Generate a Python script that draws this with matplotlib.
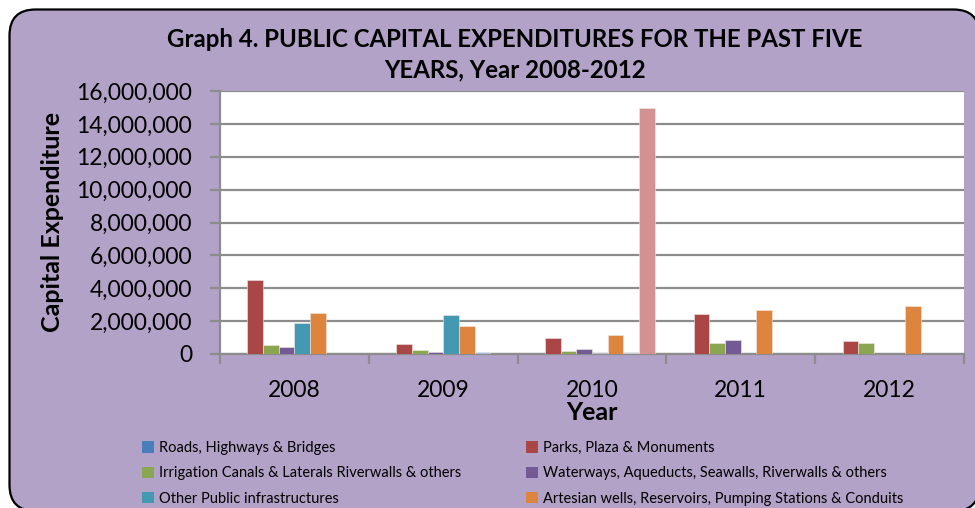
import matplotlib
matplotlib.use("Agg")
import matplotlib.pyplot as plt
from matplotlib.patches import FancyBboxPatch, Patch
from matplotlib.ticker import FuncFormatter, MultipleLocator
import numpy as np

years = ["2008", "2009", "2010", "2011", "2012"]
series_names = [
    "Roads, Highways & Bridges",
    "Parks, Plaza & Monuments",
    "Irrigation Canals & Laterals Riverwalls & others",
    "Waterways, Aqueducts, Seawalls, Riverwalls & others",
    "Other Public infrastructures",
    "Artesian wells, Reservoirs, Pumping Stations & Conduits",
    "Series 7",
    "Series 8",
]
roads      = [0, 0, 0, 0, 0]
parks      = [4500000, 630000, 950000, 2450000, 810000]
irrigation = [550000, 220000, 200000, 690000, 690000]
waterways  = [410000, 100000, 280000, 830000, 0]
other_pub  = [1870000, 2390000, 90000, 0, 0]
artesian   = [2490000, 1700000, 1160000, 2680000, 2900000]
series7    = [0, 120000, 60000, 0, 0]
series8    = [0, 0, 14950000, 0, 0]
all_series = [roads, parks, irrigation, waterways, other_pub, artesian, series7, series8]
colors = ["#4A7EBB", "#AA4645", "#8BA650", "#745A94", "#4399B2", "#DD853E", "#A6BEE0", "#D39292"]

BG = "#B2A2C7"
fig = plt.figure(figsize=(9.75, 5.08), dpi=100)
fig.patch.set_facecolor("white")
frame = FancyBboxPatch((9.5, -3), 970, 508 - 9.5 + 3,
                       boxstyle="round,pad=0,rounding_size=26",
                       transform=None, fc=BG, ec="black", lw=1.6, zorder=-10)
fig.add_artist(frame)

ax = fig.add_axes([220/975, (508-354)/508, (964-220)/975, (354-91)/508])
ax.set_facecolor("white")

n = len(all_series)
w = 1.0 / (n + 1.5)
x = np.arange(len(years))
for j, (vals, c) in enumerate(zip(all_series, colors)):
    pos = x - 0.5 + 0.75 * w + (j + 0.5) * w
    ax.bar(pos, vals, width=w, color=c, edgecolor="#F2E6E6", linewidth=0.4, zorder=3)

ax.set_xlim(-0.5, len(years) - 0.5)
ax.set_ylim(0, 16000000)
ax.yaxis.set_major_locator(MultipleLocator(2000000))
ax.yaxis.set_major_formatter(FuncFormatter(lambda v, p: f"{int(v):,}"))
ax.grid(axis="y", color="#8C8C8C", linewidth=1.6, zorder=1)
ax.set_axisbelow(True)

ax.set_xticks(x)
ax.set_xticklabels(years)
ax.set_xticks(np.arange(len(years) + 1) - 0.5, minor=True)
ax.tick_params(axis="x", which="major", length=0, pad=19, labelsize=16.5)
ax.tick_params(axis="x", which="minor", length=7, width=1.6, color="#8C8C8C", direction="out")
ax.tick_params(axis="y", length=7, width=1.6, color="#8C8C8C", direction="out", pad=13, labelsize=16.5)
for lbl in ax.get_xticklabels() + ax.get_yticklabels():
    lbl.set_fontfamily("Lato")

for s in ["top", "right"]:
    ax.spines[s].set_visible(False)
for s in ["left", "bottom"]:
    ax.spines[s].set_color("#8C8C8C")
    ax.spines[s].set_linewidth(1.6)

fig.text(515/975, 1 - 55/508,
         "Graph 4. PUBLIC CAPITAL EXPENDITURES FOR THE PAST FIVE\nYEARS, Year 2008-2012",
         ha="center", va="center", fontsize=17.3, fontweight="bold", family="Lato",
         linespacing=1.4)
fig.text(53/975, 1 - 222/508, "Capital Expenditure", rotation=90, ha="center", va="center",
         fontsize=18, fontweight="bold", family="Lato")
fig.text(592/975, 1 - 413/508, "Year", ha="center", va="center",
         fontsize=18, fontweight="bold", family="Lato")

handles = [Patch(facecolor=c, edgecolor="none") for c in colors]
left_idx = [0, 2, 4]
right_idx = [1, 3, 5]
lg_kw = dict(frameon=False, handlelength=0.8, handleheight=0.8, handletextpad=0.35,
             labelspacing=0.78, borderpad=0, borderaxespad=0,
             prop={"family": "Lato", "size": 10.5})
leg1 = fig.legend([handles[i] for i in left_idx], [series_names[i] for i in left_idx],
                  loc="upper left", bbox_to_anchor=(142/975, 1 - 441/508), **lg_kw)
leg2 = fig.legend([handles[i] for i in right_idx], [series_names[i] for i in right_idx],
                  loc="upper left", bbox_to_anchor=(526/975, 1 - 441/508), **lg_kw)

fig.savefig("out.png", dpi=100, facecolor=fig.get_facecolor())
